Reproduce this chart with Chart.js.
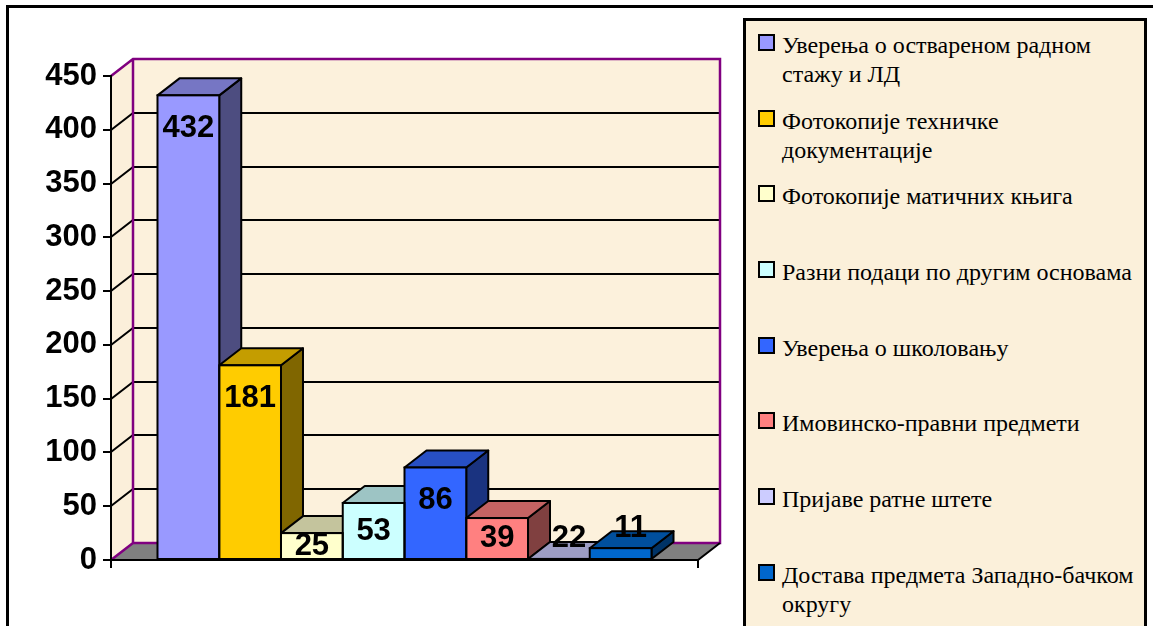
<!DOCTYPE html>
<html>
<head>
<meta charset="utf-8">
<title>Chart</title>
<script src="https://cdn.jsdelivr.net/npm/chart.js@4.4.0/dist/chart.umd.min.js"></script>
<style>
  body { margin: 0; background: #fff; }
  #wrap { position: relative; width: 1153px; height: 626px; overflow: hidden; }
  #chart-canvas { position: absolute; left: 0; top: 0; }
  #legend {
    position: absolute; left: 743px; top: 18px; width: 404px; height: 640px;
    box-sizing: border-box; border: 3px solid #000; background: #FBF0DA;
    padding: 10px 6px 0 12px;
    font-family: "Liberation Serif", "Times New Roman", "DejaVu Serif", serif; font-size: 24px; color: #000;
  }
  .item { display: flex; height: 75.7px; line-height: 29px; }
  .box { flex: none; width: 13px; height: 13px; border: 2px solid #000; margin: 3px 7px 0 0; }
</style>
</head>
<body>
<div id="wrap">
  <canvas id="chart-canvas"></canvas>
  <div id="legend"></div>
</div>
<script>
//////////////////////////////////////////////////
/////       Data                    //////////////
//////////////////////////////////////////////////

var categories = [
    "Уверења о оствареном радном стажу и ЛД",
    "Фотокопије техничке документације",
    "Фотокопије матичних књига",
    "Разни подаци по другим основама",
    "Уверења о школовању",
    "Имовинско-правни предмети",
    "Пријаве ратне штете",
    "Достава предмета Западно-бачком округу"
];
// bar heights as drawn (the "22" bar is drawn almost flat in the original)
var values = [432, 181, 25, 53, 86, 39, 1, 11];
var valueLabels = ["432", "181", "25", "53", "86", "39", "22", "11"];
var colors = ["#9999FF", "#FFCC00", "#FFFFCC", "#CCFFFF", "#3366FF", "#FF8080", "#CCCCFF", "#0066CC"];
var yMin = 0, yMax = 450, yStep = 50;

var DX = 22, DY = 17;   // depth of the 3d look

function shade(hex, f) {
    var n = parseInt(hex.slice(1), 16);
    var r = Math.round(((n >> 16) & 255) * f), g = Math.round(((n >> 8) & 255) * f), b = Math.round((n & 255) * f);
    return "rgb(" + r + "," + g + "," + b + ")";
}

function poly(ctx, pts) {
    ctx.beginPath();
    ctx.moveTo(pts[0][0], pts[0][1]);
    for (var k = 1; k < pts.length; k++) ctx.lineTo(pts[k][0], pts[k][1]);
    ctx.closePath();
}

//////////////////////////////////////////////////
/////       3d walls, bars, labels  //////////////
//////////////////////////////////////////////////

var threeD = {
    id: "threeD",
    beforeDraw: function (chart) {
        var ctx = chart.ctx, a = chart.chartArea, ys = chart.scales.y;
        var L = a.left, R = a.right, T = a.top, B = a.bottom;
        ctx.save();
        ctx.fillStyle = "#fff";
        ctx.fillRect(0, 0, chart.width, chart.height);

        // outer frame
        ctx.strokeStyle = "#000";
        ctx.lineWidth = 3;
        ctx.beginPath();
        ctx.moveTo(7.5, chart.height);
        ctx.lineTo(7.5, 6.5);
        ctx.lineTo(chart.width, 6.5);
        ctx.stroke();

        // back wall + side wall
        ctx.fillStyle = "#FCF1DC";
        ctx.fillRect(L + DX, T - DY, R - L, B - T);
        ctx.fillStyle = "#FBEFDA";
        poly(ctx, [[L, T], [L + DX, T - DY], [L + DX, B - DY], [L, B]]);
        ctx.fill();

        // floor
        ctx.fillStyle = "#808080";
        poly(ctx, [[L, B], [R, B], [R + DX, B - DY], [L + DX, B - DY]]);
        ctx.fill();

        // gridlines
        ctx.strokeStyle = "#000";
        ctx.lineWidth = 2;
        ys.ticks.forEach(function (t) {
            if (t.value <= yMin || t.value >= yMax) return;
            var py = Math.round(ys.getPixelForValue(t.value));
            ctx.beginPath();
            ctx.moveTo(L, py);
            ctx.lineTo(L + DX, py - DY);
            ctx.lineTo(R + DX, py - DY);
            ctx.stroke();
        });

        // purple wall edges
        ctx.strokeStyle = "#800080";
        ctx.lineWidth = 2.5;
        ctx.beginPath();
        ctx.moveTo(L, T);
        ctx.lineTo(L + DX, T - DY);
        ctx.lineTo(R + DX, T - DY);
        ctx.lineTo(R + DX, B - DY);
        ctx.lineTo(L + DX, B - DY);
        ctx.lineTo(L, B);
        ctx.moveTo(L + DX, T - DY);
        ctx.lineTo(L + DX, B - DY);
        ctx.stroke();

        // floor front + right edge, end ticks
        ctx.strokeStyle = "#000";
        ctx.lineWidth = 2;
        ctx.beginPath();
        ctx.moveTo(L, B);
        ctx.lineTo(R, B);
        ctx.lineTo(R + DX, B - DY);
        ctx.moveTo(L, B);
        ctx.lineTo(L, B + 8);
        ctx.moveTo(R, B);
        ctx.lineTo(R, B + 8);
        ctx.stroke();
        ctx.restore();
    },
    beforeDatasetsDraw: function (chart) {
        var ctx = chart.ctx;
        ctx.save();
        ctx.strokeStyle = "#000";
        ctx.lineWidth = 2;
        ctx.lineJoin = "round";
        chart.data.datasets.forEach(function (ds, i) {
            var bar = chart.getDatasetMeta(i).data[0];
            var p = bar.getProps(["x", "y", "base", "width"], true);
            var l = p.x - p.width / 2, r = p.x + p.width / 2;
            ctx.fillStyle = shade(colors[i], 0.5);
            poly(ctx, [[r, p.y], [r + DX, p.y - DY], [r + DX, p.base - DY], [r, p.base]]);
            ctx.fill();
            ctx.stroke();
            ctx.fillStyle = shade(colors[i], 0.77);
            poly(ctx, [[l, p.y], [l + DX, p.y - DY], [r + DX, p.y - DY], [r, p.y]]);
            ctx.fill();
            ctx.stroke();
        });
        ctx.restore();
    },
    afterDatasetsDraw: function (chart) {
        var ctx = chart.ctx;
        ctx.save();
        ctx.strokeStyle = "#000";
        ctx.lineWidth = 2;
        chart.data.datasets.forEach(function (ds, i) {
            var bar = chart.getDatasetMeta(i).data[0];
            var p = bar.getProps(["x", "y", "base", "width"], true);
            ctx.strokeRect(p.x - p.width / 2, p.y, p.width, p.base - p.y);
        });
        ctx.fillStyle = "#000";
        ctx.font = "bold 31px 'Liberation Sans', Arial, sans-serif";
        ctx.textAlign = "center";
        ctx.textBaseline = "middle";
        chart.data.datasets.forEach(function (ds, i) {
            var bar = chart.getDatasetMeta(i).data[0];
            var p = bar.getProps(["x", "y", "base"], true);
            var h = p.base - p.y;
            var tx = p.x, ty;
            if (h < 15) { ty = p.y - 20; tx = p.x + 10; }
            else ty = p.y + Math.min(33, h * 0.5);
            ctx.fillText(valueLabels[i], tx, ty);
        });
        ctx.restore();
    }
};

//////////////////////////////////////////////////
/////       For Loading chart.js    //////////////
//////////////////////////////////////////////////

var ctx = document.getElementById("chart-canvas").getContext("2d");
ctx.canvas.width = 1153;
ctx.canvas.height = 626;

var myChart = new Chart(ctx, {
    type: "bar",
    data: {
        labels: [""],
        datasets: categories.map(function (c, i) {
            return {
                label: c,
                data: [values[i]],
                backgroundColor: colors[i],
                borderWidth: 0,
                categoryPercentage: 0.8416,
                barPercentage: 1
            };
        })
    },
    options: {
        responsive: false,
        animation: false,
        layout: { padding: { left: 0, top: 76, right: 455, bottom: 66 } },
        plugins: { legend: { display: false }, tooltip: { enabled: false } },
        scales: {
            x: { display: false },
            y: {
                min: yMin,
                max: yMax,
                afterFit: function (s) { s.width = 111; },
                ticks: {
                    stepSize: yStep,
                    padding: 6,
                    color: "#000",
                    font: { family: "'Liberation Sans', Arial, sans-serif", size: 31, weight: "bold" }
                },
                grid: { drawOnChartArea: false, color: "#000", lineWidth: 2, tickLength: 8 },
                border: { display: true, color: "#000", width: 2 }
            }
        }
    },
    plugins: [threeD]
});

// legend in html so the long names wrap like the original
var legend = document.getElementById("legend");
categories.forEach(function (c, i) {
    var item = document.createElement("div");
    item.className = "item";
    item.innerHTML = '<span class="box" style="background:' + colors[i] + '"></span><span>' + c + '</span>';
    legend.appendChild(item);
});
</script>
</body>
</html>
